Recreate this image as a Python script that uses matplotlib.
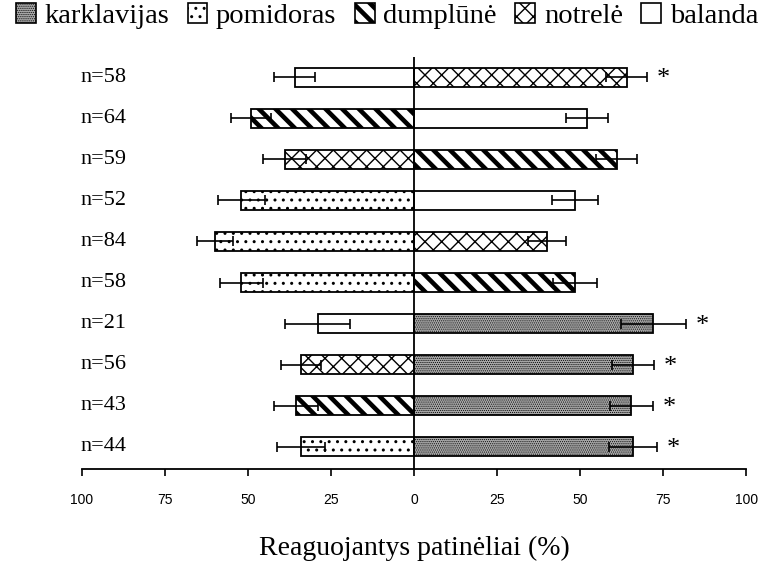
import numpy as np
import matplotlib
matplotlib.use('Agg')
import matplotlib.pyplot as plt
from matplotlib.patches import Patch

# row labels, top to bottom
labels = ['n=58', 'n=64', 'n=59', 'n=52', 'n=84', 'n=58', 'n=21', 'n=56', 'n=43', 'n=44']

left_sp = ['balanda', 'dumplūnė', 'notrelė', 'pomidoras', 'pomidoras',
           'pomidoras', 'balanda', 'notrelė', 'dumplūnė', 'pomidoras']
left_val = [36, 49, 39, 52, 60, 52, 29, 34, 35.5, 34]
left_err = [6.2, 6, 6.4, 7, 5.5, 6.6, 9.8, 6, 6.7, 7.2]

right_sp = ['notrelė', 'balanda', 'dumplūnė', 'balanda', 'notrelė',
            'dumplūnė', 'karklavijas', 'karklavijas', 'karklavijas', 'karklavijas']
right_val = [64, 52, 61, 48.5, 40, 48.5, 72, 66, 65.4, 66]
right_err = [6.2, 6.3, 6.2, 6.9, 5.6, 6.6, 9.8, 6.3, 6.5, 7.2]

signif = [True, False, False, False, False, False, True, True, True, True]

species = ['karklavijas', 'pomidoras', 'dumplūnė', 'notrelė', 'balanda']
xticks = [-100, -75, -50, -25, 0, 25, 50, 75, 100]
xticklabels = ['100', '75', '50', '25', '0', '25', '50', '75', '100']

# fill styles per species: (face, hatch, hatch linewidth)
style = {
    'karklavijas': ('#a8a8a8', '........', 0.5),
    'pomidoras': ('white', '..', 1.0),
    'dumplūnė': ('white', '\\\\', 3.3),
    'notrelė': ('white', 'xx', 1.0),
    'balanda': ('white', '', 1.0),
}

serif = 'Liberation Serif'

fig = plt.figure(figsize=(7.74, 5.65), dpi=100)
ax = fig.add_axes([0.106, 0.170, 0.858, 0.729])

y = np.arange(len(labels))
h = 0.46


def draw_bar(x, yy, sp):
    face, hatch, hlw = style[sp]
    with plt.rc_context({'hatch.linewidth': hlw}):
        b = ax.barh(yy, x, height=h, color=face, edgecolor='black',
                    linewidth=1.3, hatch=hatch, zorder=2)
        for p in b:
            if hasattr(p, 'set_hatch_linewidth'):
                p.set_hatch_linewidth(hlw)


for i in range(len(labels)):
    draw_bar(-left_val[i], y[i], left_sp[i])
    draw_bar(right_val[i], y[i], right_sp[i])

ax.errorbar([-v for v in left_val], y, xerr=left_err, fmt='none', ecolor='black',
            elinewidth=1.2, capsize=3.6, capthick=1.2, zorder=3)
ax.errorbar(right_val, y, xerr=right_err, fmt='none', ecolor='black',
            elinewidth=1.2, capsize=3.6, capthick=1.2, zorder=3)

for i in range(len(labels)):
    if signif[i]:
        ax.text(right_val[i] + right_err[i] + 3.0, y[i] + 0.05, '*', family=serif,
                fontsize=19, ha='left', va='center')
    ax.text(-100.6, y[i], labels[i], family=serif, fontsize=16,
            ha='left', va='center')

ax.axvline(0, color='black', linewidth=1.3, zorder=4)

ax.set_xlim(-100, 100)
ax.set_ylim(9.54, -0.49)
ax.set_xticks(xticks)
ax.set_xticklabels(xticklabels, family='Liberation Sans', fontsize=10)
ax.set_yticks([])
ax.tick_params(axis='x', length=5, width=1.2, pad=12)
for s in ['top', 'left', 'right']:
    ax.spines[s].set_visible(False)
ax.spines['bottom'].set_linewidth(1.3)
ax.set_xlabel('Reaguojantys patinėliai (%)', family=serif, fontsize=20, labelpad=21)

handles = []
for sp in species:
    face, hatch, hlw = style[sp]
    p = Patch(facecolor=face, edgecolor='black', hatch=hatch, linewidth=1.2, label=sp)
    handles.append(p)

leg = fig.legend(handles=handles, loc='upper center', bbox_to_anchor=(0.5, 1.03), ncol=5,
                 frameon=False, prop={'family': serif, 'size': 20.5}, handlelength=0.7,
                 handleheight=0.7, handletextpad=0.3, columnspacing=0.65, borderpad=0.2)
for lh, sp in zip(leg.legend_handles, species):
    if hasattr(lh, 'set_hatch_linewidth'):
        lh.set_hatch_linewidth(style[sp][2])

fig.savefig('out.png', dpi=100)
